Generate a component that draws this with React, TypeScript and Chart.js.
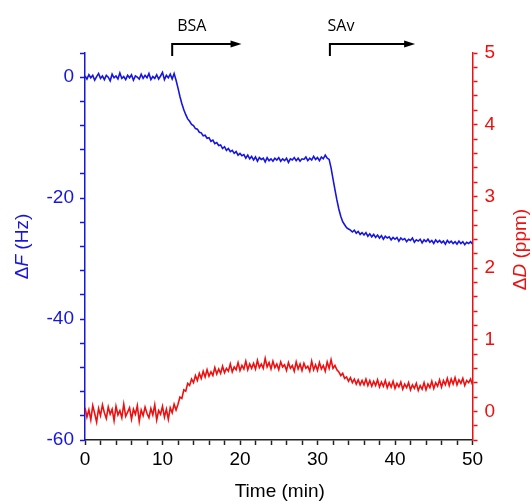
import React, { useEffect, useRef } from "react";
import { Chart, registerables } from "chart.js";

Chart.register(...registerables);

// Sampling interval of the recorded traces (minutes)
const SAMPLE_STEP_MIN = 0.25;

// Frequency shift ΔF (Hz), one row = 2 min (8 samples)
const DELTA_F_HZ = [
  0.2, -0.3, 0.4, -0.1, 0.3, -0.5, 0.1, 0.6,
  -0.2, 0.2, -0.4, 0.3, 0.0, -0.6, 0.5, -0.1,
  0.2, -0.3, 0.7, -0.2, 0.1, -0.4, 0.3, -0.1,
  0.4, -0.5, 0.2, 0.0, -0.3, 0.5, -0.2, 0.3,
  -0.1, 0.6, -0.4, 0.1, -0.2, 0.4, -0.3, 0.2,
  0.8, -0.4, 0.3, -0.1, 0.5, -0.3, 0.6, -0.5,
  -1.8, -3.2, -4.4, -5.4, -6.2, -6.9, -7.3, -7.8,
  -8.0, -8.5, -8.6, -9.1, -9.2, -9.7, -9.6, -10.1,
  -10.0, -10.6, -10.4, -11.0, -10.8, -11.3, -11.2, -11.8,
  -11.5, -12.1, -11.8, -12.3, -12.1, -12.6, -12.3, -12.9,
  -12.6, -13.0, -12.8, -13.4, -12.9, -13.5, -13.1, -13.7,
  -13.2, -13.9, -13.3, -13.6, -13.4, -14.0, -13.3, -13.8,
  -13.5, -13.9, -13.4, -13.7, -13.3, -13.9, -13.5, -13.8,
  -13.4, -14.1, -13.5, -13.7, -13.3, -13.8, -13.4, -13.9,
  -13.5, -13.6, -13.2, -13.8, -13.4, -13.7, -13.1, -13.6,
  -13.3, -13.8, -13.2, -13.5, -12.9, -13.4, -13.6, -15.0,
  -16.8, -18.6, -20.3, -21.8, -23.0, -23.9, -24.4, -24.9,
  -25.1, -25.3, -25.6, -25.3, -25.8, -25.5, -26.0, -25.7,
  -26.1, -25.7, -26.3, -25.9, -26.4, -26.0, -26.5, -26.1,
  -26.6, -26.2, -26.8, -26.3, -26.6, -26.4, -26.9, -26.5,
  -26.8, -26.5, -27.1, -26.6, -26.9, -26.7, -27.2, -26.8,
  -27.0, -26.6, -27.3, -26.9, -27.1, -26.8, -27.4, -26.9,
  -27.2, -26.8, -27.3, -27.0, -27.5, -26.9, -27.3, -27.0,
  -27.4, -27.1, -27.6, -27.0, -27.4, -27.1, -27.5, -27.2,
  -27.6, -27.1, -27.5, -27.2, -27.7, -27.3, -27.5, -27.2,
  -27.6,
];

// Dissipation shift ΔD (ppm), one row = 2 min (8 samples)
const DELTA_D_PPM = [
  0.05, -0.08, 0.02, -0.12, 0.08, -0.03, -0.15, 0.04,
  -0.06, 0.09, -0.02, -0.10, 0.06, -0.04, 0.03, -0.13,
  0.07, -0.05, 0.01, -0.09, 0.10, -0.07, -0.01, 0.05,
  -0.11, 0.03, -0.04, 0.08, -0.14, 0.02, -0.06, 0.06,
  -0.03, -0.09, 0.04, -0.05, 0.09, -0.12, 0.01, -0.04,
  0.07, -0.08, 0.03, -0.11, 0.05, -0.02, 0.10, 0.02,
  0.10, 0.20, 0.18, 0.30, 0.28, 0.39, 0.36, 0.45,
  0.40, 0.50, 0.43, 0.53, 0.46, 0.56, 0.48, 0.58,
  0.49, 0.55, 0.50, 0.61, 0.52, 0.59, 0.53, 0.63,
  0.54, 0.60, 0.56, 0.66, 0.55, 0.62, 0.58, 0.68,
  0.57, 0.64, 0.59, 0.70, 0.58, 0.66, 0.60, 0.67,
  0.59, 0.71, 0.61, 0.66, 0.60, 0.74, 0.62, 0.68,
  0.59, 0.70, 0.61, 0.66, 0.58, 0.69, 0.62, 0.65,
  0.57, 0.68, 0.60, 0.64, 0.56, 0.69, 0.59, 0.66,
  0.57, 0.67, 0.60, 0.63, 0.56, 0.70, 0.58, 0.65,
  0.57, 0.68, 0.59, 0.64, 0.56, 0.69, 0.60, 0.72,
  0.60, 0.64, 0.58, 0.55, 0.50, 0.53, 0.46, 0.48,
  0.42, 0.47, 0.40, 0.45, 0.38, 0.44, 0.37, 0.43,
  0.37, 0.45, 0.36, 0.43, 0.35, 0.42, 0.36, 0.44,
  0.34, 0.41, 0.35, 0.43, 0.33, 0.40, 0.34, 0.42,
  0.32, 0.39, 0.34, 0.41, 0.31, 0.38, 0.33, 0.40,
  0.30, 0.37, 0.32, 0.39, 0.29, 0.36, 0.31, 0.40,
  0.30, 0.38, 0.33, 0.42, 0.32, 0.40, 0.35, 0.44,
  0.34, 0.43, 0.37, 0.46, 0.36, 0.45, 0.38, 0.47,
  0.37, 0.44, 0.39, 0.46, 0.36, 0.43, 0.40, 0.45,
  0.37,
];

// Injection markers (minutes): where the bent arrow starts, ends, and label start
const INJECTION_LABELS = ["BSA", "SAv"];
const INJECTION_START = [11.25, 31.6];
const INJECTION_END = [20.2, 42.6];
const INJECTION_LABEL_AT = [11.9, 31.3];

const X_MIN = 0, X_MAX = 50, X_STEP = 2, X_LABEL_EVERY = 10;
const F_MIN = -60, F_MAX = 4, F_STEP = 4, F_LABEL_EVERY = 20;
const D_MIN = -0.4, D_MAX = 5, D_STEP = 0.2;

const BLUE = "#1616e0";
const RED = "#ee1010";
const FONT = '"Liberation Sans", Arial, sans-serif';

function drawRich(ctx: CanvasRenderingContext2D, parts: { t: string; i?: boolean }[], cx: number, cy: number, size: number, color: string, rotate: boolean) {
  ctx.save();
  ctx.translate(cx, cy);
  if (rotate) ctx.rotate(-Math.PI / 2);
  const widths = parts.map((p) => {
    ctx.font = `${p.i ? "italic " : ""}${size}px ${FONT}`;
    return ctx.measureText(p.t).width;
  });
  const total = widths.reduce((a, b) => a + b, 0);
  let x = -total / 2;
  ctx.fillStyle = color;
  ctx.textBaseline = "middle";
  ctx.textAlign = "left";
  parts.forEach((p, k) => {
    ctx.font = `${p.i ? "italic " : ""}${size}px ${FONT}`;
    ctx.fillText(p.t, x, 0);
    x += widths[k];
  });
  ctx.restore();
}

const overlayPlugin = {
  id: "overlay",
  afterDraw(chart: any) {
    const ctx: CanvasRenderingContext2D = chart.ctx;
    const xs = chart.scales.x;
    const area = chart.chartArea;
    const top = area.top;
    ctx.save();
    INJECTION_LABELS.forEach((label, k) => {
      const x0 = xs.getPixelForValue(INJECTION_START[k]);
      const x1 = xs.getPixelForValue(INJECTION_END[k]);
      const yLow = top + 3;
      const yHigh = top - 9;
      ctx.strokeStyle = "#000";
      ctx.lineWidth = 2;
      ctx.beginPath();
      ctx.moveTo(x0, yLow);
      ctx.lineTo(x0, yHigh);
      ctx.lineTo(x1 - 8, yHigh);
      ctx.stroke();
      ctx.fillStyle = "#000";
      ctx.beginPath();
      ctx.moveTo(x1, yHigh);
      ctx.lineTo(x1 - 11, yHigh - 3.5);
      ctx.lineTo(x1 - 11, yHigh + 3.5);
      ctx.closePath();
      ctx.fill();
      ctx.font = '16px "Open Sans", "Noto Sans", sans-serif';
      ctx.textAlign = "left";
      ctx.textBaseline = "alphabetic";
      ctx.fillText(label, xs.getPixelForValue(INJECTION_LABEL_AT[k]), top - 22);
    });
    ctx.restore();
    const midY = (area.top + area.bottom) / 2;
    drawRich(ctx, [{ t: "Δ" }, { t: "F", i: true }, { t: " (Hz)" }], 23, midY, 19, BLUE, true);
    drawRich(ctx, [{ t: "Δ" }, { t: "D", i: true }, { t: " (ppm)" }], 521, midY + 3, 19, RED, true);
    drawRich(ctx, [{ t: "Time (min)" }], (area.left + area.right) / 2 + 1, 492, 19, "#000", false);
  },
};

export default function App() {
  const ref = useRef<HTMLCanvasElement | null>(null);
  useEffect(() => {
    if (!ref.current) return;
    const fData = DELTA_F_HZ.map((v, i) => ({ x: i * SAMPLE_STEP_MIN, y: v }));
    const dData = DELTA_D_PPM.map((v, i) => ({ x: i * SAMPLE_STEP_MIN, y: v }));
    const chart = new Chart(ref.current, {
      type: "line",
      data: {
        datasets: [
          { label: "ΔF", data: fData, yAxisID: "y", borderColor: BLUE, borderWidth: 1.6, pointRadius: 0, tension: 0 },
          { label: "ΔD", data: dData, yAxisID: "y1", borderColor: RED, borderWidth: 1.6, pointRadius: 0, tension: 0 },
        ],
      },
      options: {
        animation: false,
        responsive: false,
        devicePixelRatio: 1,
        layout: { padding: { top: 53, left: 0, right: 0, bottom: 0 } },
        plugins: { legend: { display: false }, tooltip: { enabled: false } },
        scales: {
          x: {
            type: "linear",
            min: X_MIN,
            max: X_MAX,
            afterFit: (s: any) => { s.height = 63; },
            border: { color: "#222", width: 1.5 },
            grid: { drawOnChartArea: false, drawTicks: true, tickLength: 5, tickColor: "#222", tickWidth: 1.5 },
            ticks: {
              stepSize: X_STEP, autoSkip: false, maxRotation: 0, padding: 3, color: "#000",
              font: { family: FONT, size: 19 },
              callback: (v: any) => (Math.abs(v % X_LABEL_EVERY) < 1e-6 ? String(v) : ""),
            },
          },
          y: {
            type: "linear",
            position: "left",
            min: F_MIN,
            max: F_MAX,
            afterFit: (s: any) => { s.width = 85; },
            border: { color: BLUE, width: 1.5 },
            grid: { drawOnChartArea: false, drawTicks: true, tickLength: 5, tickColor: BLUE, tickWidth: 1.5 },
            ticks: {
              stepSize: F_STEP, autoSkip: false, padding: 6, color: BLUE,
              font: { family: FONT, size: 19 },
              callback: (v: any) => (Math.abs(v % F_LABEL_EVERY) < 1e-6 ? String(v) : ""),
            },
          },
          y1: {
            type: "linear",
            position: "right",
            min: D_MIN,
            max: D_MAX,
            afterFit: (s: any) => { s.width = 58.5; },
            border: { color: RED, width: 1.5 },
            grid: { drawOnChartArea: false, drawTicks: true, tickLength: 5, tickColor: RED, tickWidth: 1.5 },
            ticks: {
              stepSize: D_STEP, autoSkip: false, padding: 7, color: RED,
              font: { family: FONT, size: 19 },
              callback: (v: any) => {
                const r = Math.round(v);
                return Math.abs(v - r) < 1e-6 ? String(r === 0 ? 0 : r) : "";
              },
            },
          },
        },
      },
      plugins: [overlayPlugin],
    });
    return () => chart.destroy();
  }, []);
  return (
    <div style={{ position: "fixed", left: 0, top: 0, width: 531, height: 503, background: "#fff" }}>
      <canvas ref={ref} width={531} height={503} />
    </div>
  );
}
